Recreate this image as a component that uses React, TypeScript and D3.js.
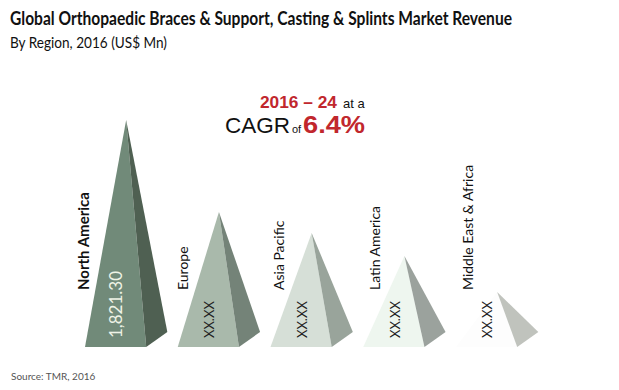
import * as d3 from 'd3'

const REGIONS = ['North America', 'Europe', 'Asia Pacific', 'Latin America', 'Middle East & Africa']
const VALUES = [1821.3, 1083, 915, 730, 441]
const VALUE_LABELS = ['1,821.30', 'XX.XX', 'XX.XX', 'XX.XX', 'XX.XX']
const FRONT = ['#718a79', '#a9b9ab', '#d6dfd7', '#eef6ef', '#fdfdfd']
const SIDE = ['#4f6052', '#748378', '#99a49b', '#9ba29d', '#c0c3bd']

const W = 619
const H = 390
const FONT = 'Lato, "Open Sans", sans-serif'
const ARIAL = '"Liberation Sans", Arial, sans-serif'
const RED = '#c1272d'

export default function App() {
  const base = 347
  const x = d3.scaleBand<string>().domain(REGIONS).range([85, 85 + 92.75 * REGIONS.length])
  const y = d3.scaleLinear().domain([0, 1821.3]).range([base, 120])
  const fw = x.bandwidth() * 0.66 // front face width
  const sdx = fw * 0.345, sdy = -15 // receding side offset
  const labelY = 290

  return (
    <svg width={W} height={H} style={{ position: 'fixed', left: 0, top: 0, background: '#fff' }}>
      <text x={10} y={25} fontFamily={FONT} fontWeight={700} fontSize={18} fill="#111"
        textLength={502} lengthAdjust="spacingAndGlyphs">
        Global Orthopaedic Braces &amp; Support, Casting &amp; Splints Market Revenue
      </text>
      <text x={10} y={48} fontFamily={FONT} fontSize={15} fill="#111" textLength={157} lengthAdjust="spacingAndGlyphs">
        By Region, 2016 (US$ Mn)
      </text>

      {/* CAGR callout */}
      <text y={108} fontFamily={ARIAL}>
        <tspan x={260} fontWeight={700} fontSize={17} fill={RED} textLength={77} lengthAdjust="spacingAndGlyphs">2016 – 24</tspan>
        <tspan x={343} fontSize={13} fill="#111">at a</tspan>
      </text>
      <text y={133} fontFamily={ARIAL}>
        <tspan x={225} fontSize={22} fill="#111" textLength={65} lengthAdjust="spacingAndGlyphs">CAGR</tspan>
        <tspan x={292} fontSize={11} fill="#111">of</tspan>
        <tspan x={303} fontSize={24} fontWeight={700} fill={RED} textLength={62} lengthAdjust="spacingAndGlyphs">6.4%</tspan>
      </text>

      {REGIONS.map((r, i) => {
        const bl = x(r)!
        const br = bl + fw
        const ax = bl + (fw + sdx) / 2
        const ay = y(VALUES[i])
        const edgeX = labelY > ay ? bl + (ax - bl) * (base - labelY) / (base - ay) : ax
        const lx = Math.min(edgeX - 12, ax - 29)
        const vx = bl + fw / 2 + (i === 0 ? 0 : 1)
        return (
          <g key={r}>
            <path d={`M${ax},${ay}L${bl},${base}L${br},${base}Z`} fill={FRONT[i]} />
            <path d={`M${ax},${ay}L${br},${base}L${br + sdx},${base + sdy}Z`} fill={SIDE[i]} />
            <text transform={`translate(${lx},${labelY}) rotate(-90)`} dy="0.36em"
              fontFamily={FONT} fontSize={i === 0 ? 15 : 14} fontWeight={i === 0 ? 700 : 400} fill="#111">
              {r}
            </text>
            <text transform={`translate(${vx},${base - 9}) rotate(-90)`} dy="0.36em"
              fontFamily={FONT} fontSize={i === 0 ? 17 : 13} fill={i === 0 ? '#eef3e6' : '#222'}>
              {VALUE_LABELS[i]}
            </text>
          </g>
        )
      })}

      <text x={11} y={380} fontFamily={FONT} fontSize={10} fill="#555">Source: TMR, 2016</text>
    </svg>
  )
}
